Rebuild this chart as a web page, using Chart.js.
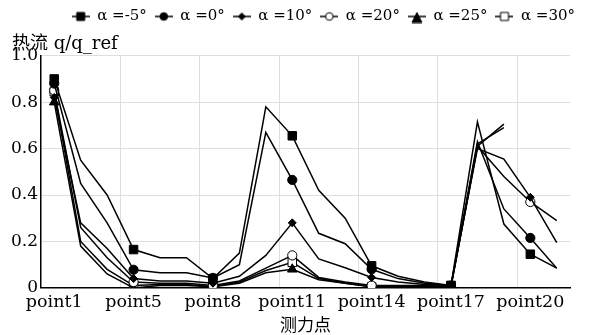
<!DOCTYPE html>
<html>
<head>
<meta charset="utf-8">
<script src="https://cdn.jsdelivr.net/npm/chart.js"></script>
<style>
  body { margin: 0; background: #fff; }
</style>
</head>
<body>
<canvas id="chart" width="589" height="335"></canvas>
<script>
// 测力点 (20 points), only some of them get a tick label
const categories = ['point1', 'point2', 'point3', 'point4', 'point5', 'point6', 'point7',
  'point8', 'point9', 'point10', 'point11', 'point12', 'point13', 'point14', 'point15',
  'point16', 'point17', 'point18', 'point19', 'point20'];
const tickLabels = ['point1', 'point5', 'point8', 'point11', 'point14', 'point17', 'point20'];

const seriesNames = ['α =-5°', 'α =0°', 'α =10°', 'α =20°', 'α =25°', 'α =30°'];

// 热流 q/q_ref
const qNeg5 = [0.90, 0.55, 0.40, 0.165, 0.13, 0.13, 0.04, 0.15, 0.78, 0.655, 0.42, 0.30, 0.095, 0.05, 0.025, 0.01, 0.715, 0.275, 0.145, 0.085];
const q0 = [0.88, 0.45, 0.28, 0.078, 0.065, 0.065, 0.043, 0.10, 0.67, 0.465, 0.235, 0.19, 0.08, 0.04, 0.02, 0.01, 0.63, 0.34, 0.215, 0.085];
const q10 = [0.82, 0.28, 0.17, 0.04, 0.03, 0.03, 0.02, 0.05, 0.14, 0.28, 0.125, 0.087, 0.045, 0.025, 0.015, 0.01, 0.60, 0.555, 0.39, 0.195];
const q20 = [0.85, 0.26, 0.13, 0.025, 0.02, 0.02, 0.01, 0.03, 0.085, 0.14, 0.045, 0.025, 0.01, 0.01, 0.01, 0.005, 0.61, 0.48, 0.37, 0.29];
const q25 = [0.80, 0.18, 0.06, 0.0, 0.01, 0.01, 0.005, 0.02, 0.065, 0.08, 0.035, 0.02, 0.005, 0.005, 0.005, 0.005, 0.61, 0.705];
const q30 = [0.845, 0.20, 0.08, 0.01, 0.015, 0.015, 0.005, 0.025, 0.075, 0.11, 0.04, 0.02, 0.005, 0.005, 0.005, 0.01, 0.62, 0.69];

const FONT = "'DejaVu Serif', 'Noto Sans CJK SC', serif";

// marker look per series: [pointStyle, filled, radius]
const markers = [
  ['rect', true, 6],
  ['circle', true, 4.6],
  ['rectRot', true, 4],
  ['circle', false, 4.6],
  ['triangle', true, 5.5],
  ['rect', false, 6]
];

function legendIcon(style, filled) {
  const c = document.createElement('canvas');
  c.width = 18; c.height = 14;
  const g = c.getContext('2d');
  g.strokeStyle = '#000';
  g.lineWidth = 1.5;
  g.beginPath(); g.moveTo(0, 7); g.lineTo(18, 7); g.stroke();
  g.fillStyle = filled ? '#000' : '#fff';
  g.lineWidth = 1;
  g.beginPath();
  if (style === 'rect') {
    g.rect(9 - 4, 7 - 4, 8, 8);
  } else if (style === 'circle') {
    g.arc(9, 7, 3.8, 0, Math.PI * 2);
  } else if (style === 'rectRot') {
    g.moveTo(9, 3.5); g.lineTo(12.5, 7); g.lineTo(9, 10.5); g.lineTo(5.5, 7); g.closePath();
  } else if (style === 'triangle') {
    g.moveTo(9, 3); g.lineTo(14, 13); g.lineTo(4, 13); g.closePath();
  }
  g.fill();
  g.stroke();
  return c;
}

const values = [qNeg5, q0, q10, q20, q25, q30];
const datasets = values.map((data, i) => {
  const [style, filled, r] = markers[i];
  return {
    label: seriesNames[i],
    data: data,
    borderColor: '#000',
    borderWidth: 1.5,
    backgroundColor: filled ? '#000' : '#fff',
    pointStyle: style,
    pointBorderColor: '#000',
    pointBackgroundColor: filled ? '#000' : '#fff',
    pointBorderWidth: 1,
    pointRadius: ctx => ctx.dataIndex % 3 === 0 ? r : 0,
    tension: 0,
    fill: false
  };
});

// the legend in the original runs a little past the plot's right edge
const legendShift = {
  id: 'legendShift',
  afterLayout(chart) {
    chart.legend.left += 13;
    chart.legend.right += 13;
  }
};

new Chart(document.getElementById('chart'), {
  type: 'line',
  data: { labels: categories, datasets: datasets },
  plugins: [legendShift],
  options: {
    responsive: false,
    animation: false,
    layout: { padding: { left: 12, right: 19, top: 1, bottom: 0 } },
    plugins: {
      tooltip: { enabled: false },
      legend: {
        position: 'top',
        align: 'end',
        labels: {
          usePointStyle: true,
          pointStyleWidth: 18,
          padding: 8,
          color: '#000',
          font: { family: FONT, size: 15 },
          generateLabels: chart => chart.data.datasets.map((ds, i) => ({
            text: ds.label,
            pointStyle: legendIcon(markers[i][0], markers[i][1]),
            datasetIndex: i,
            hidden: false,
            lineWidth: 0,
            strokeStyle: '#000',
            fillStyle: '#000',
            fontColor: '#000'
          }))
        }
      },
      title: {
        display: true,
        text: '热流 q/q_ref',
        align: 'start',
        weight: 500,
        color: '#000',
        font: { family: FONT, size: 18, weight: 'normal', lineHeight: 1.15 },
        padding: { top: 0, bottom: 1 }
      }
    },
    scales: {
      x: {
        type: 'category',
        offset: true,
        border: { display: true, color: '#000', width: 1.5 },
        grid: {
          offset: true,
          drawTicks: false,
          color: ctx => (ctx.index > 0 && ctx.index % 3 === 0) ? '#dedede' : 'rgba(0,0,0,0)',
          lineWidth: 1
        },
        ticks: {
          autoSkip: false,
          maxRotation: 0,
          minRotation: 0,
          padding: 5,
          color: '#000',
          font: { family: FONT, size: 17.5, lineHeight: 1.15 },
          callback: (v, i) => i % 3 === 0 ? tickLabels[i / 3] : ''
        },
        title: {
          display: true,
          text: '测力点',
          color: '#000',
          font: { family: FONT, size: 17, lineHeight: 1 },
          padding: { top: 0, bottom: 0 }
        }
      },
      y: {
        min: 0,
        max: 1,
        afterFit: scale => { scale.width = 29; },
        border: { display: true, color: '#000', width: 1.5 },
        grid: { color: '#dedede', lineWidth: 1, drawTicks: false },
        ticks: {
          stepSize: 0.2,
          padding: 3,
          color: '#000',
          font: { family: FONT, size: 17 },
          callback: v => v === 0 ? '0' : v.toFixed(1)
        }
      }
    }
  }
});
</script>
</body>
</html>
